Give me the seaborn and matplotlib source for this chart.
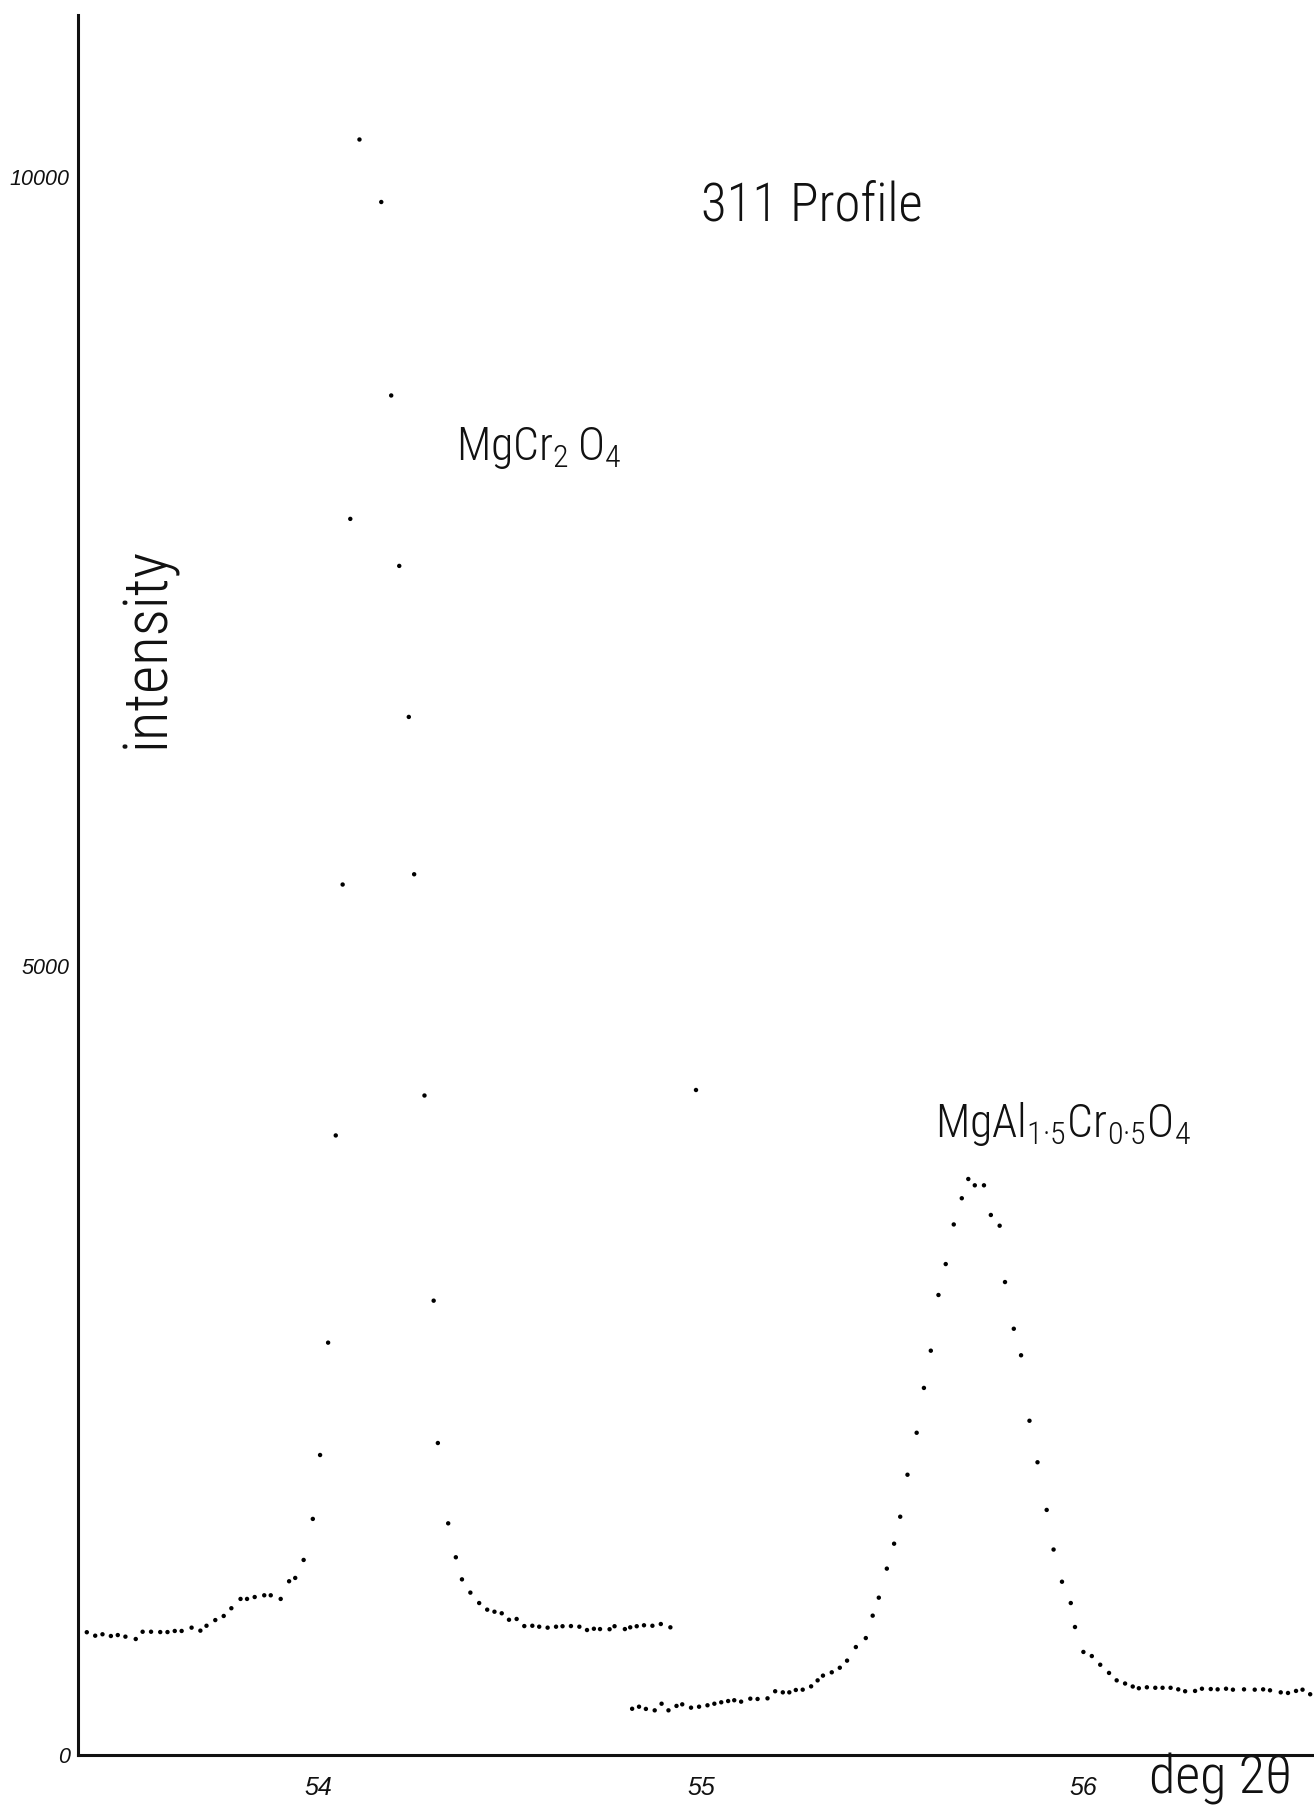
import matplotlib
matplotlib.use("Agg")
import matplotlib.pyplot as plt
import pandas as pd
import seaborn as sns
from matplotlib import font_manager

# ---------------- data ----------------
mgcr_2theta = [53.394, 53.416, 53.435, 53.457, 53.475, 53.495, 53.522, 53.540, 53.562, 53.586,
               53.605, 53.624, 53.642, 53.668, 53.691, 53.707, 53.730, 53.752, 53.772, 53.796,
               53.813, 53.833, 53.858, 53.875, 53.901, 53.923, 53.939, 53.961, 53.985, 54.004,
               54.025, 54.045, 54.063, 54.083, 54.107, 54.164, 54.190, 54.211, 54.236, 54.250,
               54.277, 54.301, 54.312, 54.339, 54.359, 54.375, 54.397, 54.420, 54.441, 54.460,
               54.479, 54.498, 54.518, 54.538, 54.559, 54.577, 54.599, 54.621, 54.638, 54.660,
               54.682, 54.702, 54.720, 54.736, 54.761, 54.774, 54.801, 54.815, 54.832, 54.851,
               54.873, 54.895, 54.920]
mgcr_counts = [778, 756, 765, 754, 760, 750, 735, 781, 781, 779,
               779, 786, 786, 807, 788, 819, 855, 881, 930, 989,
               989, 1001, 1012, 1012, 989, 1101, 1122, 1236, 1496, 1901,
               2613, 3926, 5516, 7833, 10237, 9841, 8615, 7535, 6578, 5581,
               4179, 2879, 1977, 1468, 1253, 1113, 1029, 963, 921, 908,
               898, 857, 862, 817, 819, 813, 807, 813, 816, 817,
               813, 792, 800, 798, 797, 816, 798, 809, 816, 822,
               819, 830, 809]

mgal_2theta = [54.820, 54.838, 54.856, 54.879, 54.897, 54.915, 54.936, 54.951, 54.974, 54.995,
               55.017, 55.035, 55.053, 55.071, 55.087, 55.105, 55.129, 55.148, 55.174, 55.194,
               55.214, 55.231, 55.248, 55.266, 55.288, 55.305, 55.319, 55.342, 55.363, 55.382,
               55.405, 55.431, 55.449, 55.465, 55.486, 55.505, 55.521, 55.540, 55.564, 55.583,
               55.601, 55.621, 55.640, 55.661, 55.682, 55.699, 55.716, 55.740, 55.758, 55.781,
               55.795, 55.818, 55.837, 55.859, 55.880, 55.904, 55.922, 55.944, 55.967, 55.978,
               56.000, 56.022, 56.044, 56.067, 56.087, 56.109, 56.129, 56.145, 56.166, 56.188,
               56.207, 56.228, 56.248, 56.266, 56.292, 56.310, 56.333, 56.351, 56.373, 56.391,
               56.420, 56.448, 56.470, 56.488, 56.516, 56.535, 56.556, 56.573, 56.593]
mgal_counts = [293, 306, 292, 283, 325, 283, 311, 321, 300, 306,
               315, 325, 334, 342, 347, 338, 357, 355, 359, 404,
               397, 397, 412, 414, 435, 473, 503, 524, 553, 598,
               684, 741, 883, 997, 1181, 1339, 1510, 1776, 2042, 2326,
               2562, 2915, 3111, 3362, 3528, 3650, 3610, 3610, 3422, 3354,
               2997, 2701, 2533, 2118, 1855, 1553, 1302, 1098, 963, 811,
               653, 627, 572, 520, 473, 453, 434, 423, 429, 426,
               426, 426, 416, 404, 406, 420, 418, 416, 420, 414,
               416, 414, 416, 410, 397, 393, 406, 414, 385]

stray_2theta = [54.987]
stray_counts = [4214]

x_tick_values = [54, 55, 56]
x_tick_labels = ["54", "55", "56"]
y_tick_values = [0, 1000, 2000, 3000, 4000, 5000, 6000, 7000, 8000, 9000, 10000, 11000]
y_tick_labels = ["0", "", "", "", "", "5000", "", "", "", "", "10000", ""]

title_text = "311 Profile"
label_mgcr = r"$\mathregular{MgCr_2\,O_4}$"
label_mgal = r"$\mathregular{MgAl_{1·5}Cr_{0·5}O_4}$"
y_title = "intensity"
x_title = "deg 2θ"

# ---------------- styling ----------------
sns.set_theme(style="white")
avail = {f.name for f in font_manager.fontManager.ttflist}
narrow = next((n for n in ["Liberation Sans Narrow", "Roboto Condensed", "DejaVu Sans"] if n in avail),
              "DejaVu Sans")
plt.rcParams["font.family"] = [narrow, "DejaVu Sans"]
plt.rcParams["mathtext.default"] = "regular"
tick_family = ["Liberation Sans", "DejaVu Sans"]

frames = [
    pd.DataFrame({"two_theta": mgcr_2theta, "counts": mgcr_counts, "series": "MgCr2O4"}),
    pd.DataFrame({"two_theta": mgal_2theta, "counts": mgal_counts, "series": "MgAl1.5Cr0.5O4"}),
    pd.DataFrame({"two_theta": stray_2theta, "counts": stray_counts, "series": "stray"}),
]
df = pd.concat(frames, ignore_index=True)

W, H = 1314, 1810
fig = plt.figure(figsize=(W / 100, H / 100), dpi=100)
fig.patch.set_facecolor("white")
ax_left, ax_bottom_px, ax_top_px = 78, 1755, 15
ax = fig.add_axes([ax_left / W, (H - ax_bottom_px) / H, 1 - ax_left / W, (ax_bottom_px - ax_top_px) / H])
ax.set_facecolor("white")

sns.scatterplot(data=df, x="two_theta", y="counts", hue="series",
                palette={"MgCr2O4": "black", "MgAl1.5Cr0.5O4": "black", "stray": "black"},
                s=10, linewidth=0, legend=False, ax=ax, zorder=3)

ax.set_xlim(53.371, 56.603)
ax.set_ylim(0, 11026)

for side in ["top", "right"]:
    ax.spines[side].set_visible(False)
for side in ["left", "bottom"]:
    ax.spines[side].set_color("#111111")
    ax.spines[side].set_linewidth(2.2)

ax.set_xticks(x_tick_values)
ax.set_xticklabels(x_tick_labels, fontstyle="italic", fontsize=18, family=tick_family)
ax.set_yticks(y_tick_values)
ax.set_yticklabels(y_tick_labels, fontstyle="italic", fontsize=15.5, family=tick_family)
ax.tick_params(axis="x", direction="in", length=7, width=1.2, pad=15, colors="#111111")
ax.tick_params(axis="y", direction="in", length=6, width=1.2, pad=6, colors="#111111")
ax.set_xlabel("")
ax.set_ylabel("")
ax.grid(False)

# ---------------- annotations ----------------
def fx(px):
    return px / W

def fy(py):
    return 1 - py / H

text_kw = dict(color="#111111", fontweight="light")
fig.text(fx(812), fy(206), title_text, ha="center", va="center", fontsize=38, **text_kw)
fig.text(fx(539), fy(460), label_mgcr, ha="center", va="baseline", fontsize=33, **text_kw)
fig.text(fx(1063), fy(1137), label_mgal, ha="center", va="baseline", fontsize=33, **text_kw)
fig.text(fx(148), fy(647), y_title, ha="center", va="center", rotation=90, fontsize=44, **text_kw)
fig.text(fx(1221), fy(1793), x_title, ha="center", va="baseline", fontsize=39, **text_kw)

fig.savefig("out.png", dpi=100, facecolor="white")
